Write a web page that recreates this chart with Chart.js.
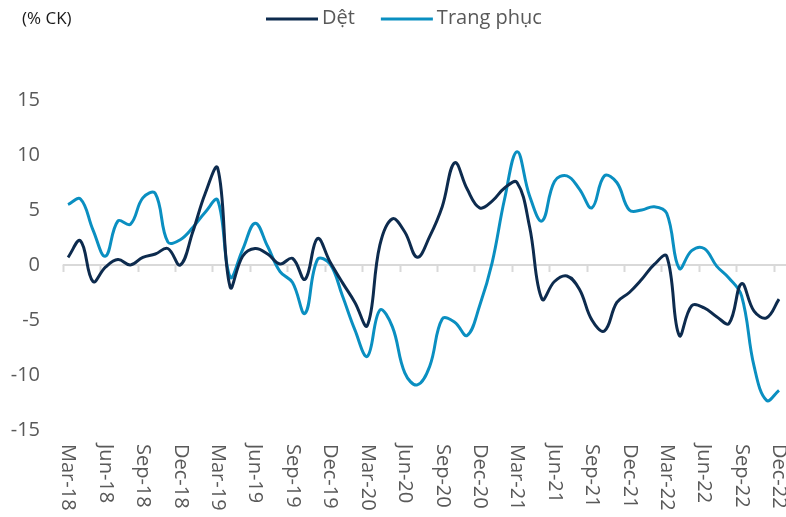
<!DOCTYPE html>
<html><head><meta charset="utf-8">
<script src="https://cdn.jsdelivr.net/npm/chart.js@4.4.0/dist/chart.umd.min.js"></script>
<style>html,body{margin:0;padding:0;background:#fff}#wrap{width:786px;height:517px;position:relative}</style>
</head><body><div id="wrap"><canvas id="c" width="786" height="517"></canvas></div>
<script>
const months = [
 'Mar-18','Apr-18','May-18','Jun-18','Jul-18','Aug-18','Sep-18','Oct-18','Nov-18','Dec-18',
 'Jan-19','Feb-19','Mar-19','Apr-19','May-19','Jun-19','Jul-19','Aug-19','Sep-19','Oct-19','Nov-19','Dec-19',
 'Jan-20','Feb-20','Mar-20','Apr-20','May-20','Jun-20','Jul-20','Aug-20','Sep-20','Oct-20','Nov-20','Dec-20',
 'Jan-21','Feb-21','Mar-21','Apr-21','May-21','Jun-21','Jul-21','Aug-21','Sep-21','Oct-21','Nov-21','Dec-21',
 'Jan-22','Feb-22','Mar-22','Apr-22','May-22','Jun-22','Jul-22','Aug-22','Sep-22','Oct-22','Nov-22','Dec-22'
];
const det = [
 0.7, 2.2, -1.5, -0.2, 0.5, 0.0, 0.7, 1.0, 1.5, 0.0,
 3.0, 6.5, 8.8, -2.0, 0.8, 1.5, 1.0, 0.1, 0.6, -1.3, 2.4, 0.3,
 -1.6, -3.4, -5.5, 1.8, 4.2, 3.0, 0.7, 2.6, 5.3, 9.3, 6.9, 5.2,
 5.8, 7.0, 7.5, 3.5, -3.1, -1.5, -1.0, -2.2, -5.0, -6.0, -3.4, -2.5,
 -1.3, 0.05, 0.8, -6.4, -3.7, -3.9, -4.7, -5.3, -1.7, -4.2, -4.8, -3.1
];
const trangPhuc = [
 5.5, 6.0, 3.2, 0.8, 4.0, 3.7, 6.1, 6.5, 2.1, 2.3,
 3.4, 4.8, 5.9, -1.1, 1.4, 3.8, 1.7, -0.6, -1.6, -4.4, 0.5, 0.1,
 -2.8, -5.9, -8.3, -4.1, -5.6, -9.8, -10.9, -9.2, -4.9, -5.2, -6.4, -3.7,
 0.2, 6.0, 10.3, 6.3, 4.0, 7.6, 8.1, 6.9, 5.2, 8.1, 7.5, 5.0,
 5.0, 5.3, 4.7, -0.3, 1.3, 1.5, -0.1, -1.2, -2.8, -9.2, -12.3, -11.4
];
const seriesNames = ['Dệt', 'Trang phục'];
const yMin = -15, yMax = 15, yStep = 5;
const unitLabel = '(% CK)';
const labelEvery = 3;

const NAVY = '#0d2b4e', CYAN = '#0a8fc1', GRAY = '#595959', AXIS = '#d9d9d9';
const FONT = "'Open Sans', 'Noto Sans', sans-serif";

const decor = {
  id: 'decor',
  beforeDatasetsDraw(chart) {
    const {ctx, scales: {x, y}} = chart;
    const step = x.getPixelForValue(1) - x.getPixelForValue(0);
    const y0 = y.getPixelForValue(0);
    const startX = x.getPixelForValue(0) - 0.42 * step;
    ctx.save();
    ctx.strokeStyle = AXIS; ctx.lineWidth = 2;
    ctx.beginPath(); ctx.moveTo(startX, y0); ctx.lineTo(chart.width, y0); ctx.stroke();
    for (let i = 0; i < months.length; i += labelEvery) {
      const tx = Math.round(x.getPixelForValue(i) - 0.42 * step) + 0.5;
      ctx.beginPath(); ctx.moveTo(tx, y0); ctx.lineTo(tx, y0 + 7); ctx.stroke();
    }
    ctx.restore();
  },
  afterDraw(chart) {
    const {ctx, scales: {x}, chartArea} = chart;
    ctx.save();
    // rotated x labels (reading top to bottom)
    ctx.fillStyle = GRAY; ctx.font = "20px " + FONT;
    ctx.textAlign = 'left'; ctx.textBaseline = 'middle';
    for (let i = 0; i < months.length; i += labelEvery) {
      ctx.save();
      ctx.translate(x.getPixelForValue(i), chartArea.bottom + 14);
      ctx.rotate(Math.PI / 2);
      ctx.fillText(months[i], 0, 0);
      ctx.restore();
    }
    // unit label
    ctx.fillStyle = '#1a1a1a'; ctx.font = "17px " + FONT;
    ctx.fillText(unitLabel, 22, 19);
    // legend
    ctx.font = "20px " + FONT;
    const items = chart.data.datasets;
    let lx = 266;
    items.forEach(ds => {
      ctx.strokeStyle = ds.borderColor; ctx.lineWidth = 3;
      ctx.beginPath(); ctx.moveTo(lx, 19); ctx.lineTo(lx + 52, 19); ctx.stroke();
      ctx.fillStyle = GRAY;
      ctx.fillText(ds.label, lx + 56, 18);
      lx += 56 + ctx.measureText(ds.label).width + 26;
    });
    ctx.restore();
  }
};

new Chart(document.getElementById('c'), {
  type: 'line',
  data: {
    labels: months,
    datasets: [
      {label: seriesNames[0], data: det, borderColor: NAVY, backgroundColor: NAVY, borderWidth: 3, pointRadius: 0, tension: 0.4},
      {label: seriesNames[1], data: trangPhuc, borderColor: CYAN, backgroundColor: CYAN, borderWidth: 3, pointRadius: 0, tension: 0.4}
    ]
  },
  options: {
    responsive: false, animation: false,
    layout: {padding: {top: 100, bottom: 87, left: 0, right: 7}},
    plugins: {legend: {display: false}, tooltip: {enabled: false}},
    scales: {
      x: {type: 'category', offset: false, grid: {display: false, drawTicks: false}, border: {display: false}, ticks: {display: false}},
      y: {
        min: yMin, max: yMax,
        afterFit(s) { s.width = 68; },
        grid: {display: false, drawTicks: false}, border: {display: false},
        ticks: {stepSize: yStep, padding: 28, color: GRAY, font: {family: FONT, size: 20}}
      }
    }
  },
  plugins: [decor]
});
</script></body></html>
